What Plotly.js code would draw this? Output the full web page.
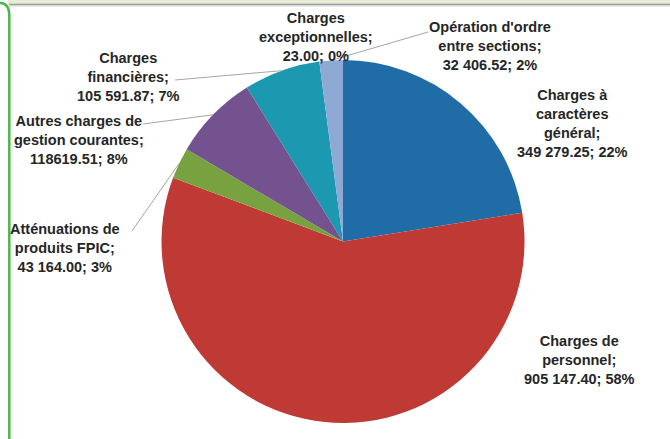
<!DOCTYPE html>
<html>
<head>
<meta charset="utf-8">
<script src="https://cdn.plot.ly/plotly-3.0.1.min.js"></script>
<style>
  html, body { margin: 0; padding: 0; background: #ffffff; }
  #chart { width: 670px; height: 439px; }
</style>
</head>
<body>
<div id="chart"></div>
<script>
// ---- data ----
var categories = [
  "Charges à\ncaractères\ngénéral",
  "Charges de\npersonnel",
  "Atténuations de\nproduits FPIC",
  "Autres charges de\ngestion courantes",
  "Charges\nfinancières",
  "Charges\nexceptionnelles",
  "Opération d'ordre\nentre sections"
];
var values = [349279.25, 905147.40, 43164.00, 118619.51, 105591.87, 23.00, 32406.52];
var valueLabels = ["349 279.25", "905 147.40", "43 164.00", "118619.51", "105 591.87", "23.00", "32 406.52"];
var colors = ["#1F6CA7", "#BF3A35", "#77A23F", "#74518F", "#1C99B0", "#2C8FB0", "#8DA9D4"];

// ---- layout helpers (pixel geometry of the page) ----
var W = 670, H = 439;
function px(x) { return x / W; }
function py(y) { return 1 - y / H; }
var cx = 343, cy = 241.5, R = 181.5;

// label anchor centres (pixels) and leader start points (null = no leader)
var labelPos = [[572, 123], [579, 360], [65, 248], [79, 140], [128, 77], [316, 37], [490, 46]];
var leaderStart = [null, null, [132, 231], [143, 124], [175, 80], null, [428, 32]];

var total = values.reduce(function (a, b) { return a + b; }, 0);

var annotations = [];
var shapes = [];

// frame decoration
shapes.push({type: 'rect', xref: 'paper', yref: 'paper', x0: px(8), x1: 1, y0: py(4), y1: 1,
  fillcolor: '#E5EDD3', line: {width: 0}, layer: 'below'});
shapes.push({type: 'line', xref: 'paper', yref: 'paper', x0: px(9), x1: 1, y0: py(4.5), y1: py(4.5),
  line: {color: '#9A9A9A', width: 1.5}});
shapes.push({type: 'line', xref: 'paper', yref: 'paper', x0: px(9), x1: 1, y0: py(6), y1: py(6),
  line: {color: '#CFCFCF', width: 1}});
shapes.push({type: 'path', xref: 'paper', yref: 'paper',
  path: 'M ' + px(0) + ',' + py(3) + ' Q ' + px(9.3) + ',' + py(3) + ' ' + px(9.3) + ',' + py(16) +
        ' L ' + px(9.3) + ',' + py(440),
  line: {color: '#4BB847', width: 2.5}});

var cum = 0;
for (var i = 0; i < values.length; i++) {
  var frac = values[i] / total;
  var mid = cum + frac / 2;
  cum += frac;
  var pct = Math.round(frac * 100);
  var txt = categories[i].split('\n').join('<br>') + ';<br>' + valueLabels[i] + '; ' + pct + '%';
  annotations.push({
    xref: 'paper', yref: 'paper', x: px(labelPos[i][0]), y: py(labelPos[i][1]),
    xanchor: 'center', yanchor: 'middle', showarrow: false, align: 'center',
    text: txt,
    font: {family: 'Liberation Sans, Arial, sans-serif', size: 14.5, color: '#262626', weight: 'bold'}
  });
  if (leaderStart[i]) {
    var ang = mid * 2 * Math.PI; // clockwise from 12 o'clock
    var ex = cx + R * Math.sin(ang);
    var ey = cy - R * Math.cos(ang);
    shapes.push({type: 'line', xref: 'paper', yref: 'paper',
      x0: px(leaderStart[i][0]), y0: py(leaderStart[i][1]), x1: px(ex), y1: py(ey),
      line: {color: '#A6A6A6', width: 1}});
  }
}

var trace = {
  type: 'pie',
  labels: categories.map(function (c) { return c.split('\n').join(' '); }),
  values: values,
  sort: false,
  direction: 'clockwise',
  rotation: 0,
  textinfo: 'none',
  hoverinfo: 'none',
  marker: {colors: colors, line: {width: 0}},
  domain: {x: [px(cx - R), px(cx + R)], y: [py(cy + R), py(cy - R)]}
};

var layout = {
  width: W, height: H,
  margin: {l: 0, r: 0, t: 0, b: 0},
  paper_bgcolor: '#ffffff',
  showlegend: false,
  annotations: annotations,
  shapes: shapes
};

Plotly.newPlot('chart', [trace], layout, {displayModeBar: false, staticPlot: true});
</script>
</body>
</html>
